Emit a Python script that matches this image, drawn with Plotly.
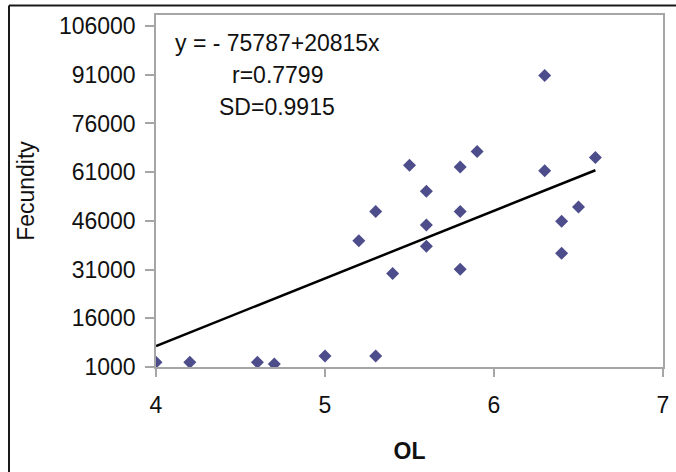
import plotly.graph_objects as go

# Data
ol = [4.0, 4.2, 4.6, 4.7, 5.0, 5.3, 5.3, 5.2, 5.4, 5.5, 5.6, 5.6, 5.6,
      5.8, 5.8, 5.8, 5.9, 6.3, 6.3, 6.4, 6.4, 6.5, 6.6]
fecundity = [2450, 2450, 2450, 1900, 4400, 4400, 48900, 39900, 29800, 63100,
             55100, 44700, 38200, 62600, 48900, 31100, 67400, 90800, 61400,
             45900, 36000, 50300, 65500]

intercept = -75787
slope = 20815
fit_x = [4.0, 6.6]
fit_y = [intercept + slope * v for v in fit_x]

x_ticks = [4, 5, 6, 7]
y_ticks = [1000, 16000, 31000, 46000, 61000, 76000, 91000, 106000]
eq_lines = ["y = - 75787+20815x", "r=0.7799", "SD=0.9915"]

FONT = "Arial, Liberation Sans, sans-serif"
W, H = 676, 472
L, R, T, B = 156, 13, 15, 105
pw, ph = W - L - R, H - T - B

fig = go.Figure()
fig.add_trace(go.Scatter(x=ol, y=fecundity, mode="markers",
                         marker=dict(symbol="diamond", size=10, color="#4d4d8c",
                                     line=dict(width=0)),
                         showlegend=False, hoverinfo="x+y"))
fig.add_trace(go.Scatter(x=fit_x, y=fit_y, mode="lines",
                         line=dict(color="black", width=2.5),
                         showlegend=False, hoverinfo="skip"))

def px_to_paper(xp, yp):
    return (xp - L) / pw, (H - B - yp) / ph

ann = []
for txt, yp in zip(eq_lines, [43, 75, 107]):
    px, py = px_to_paper(277, yp)
    ann.append(dict(text=txt, x=px, y=py, xref="paper", yref="paper",
                    showarrow=False, xanchor="center", yanchor="middle",
                    font=dict(family=FONT, size=23, color="#111111")))

# outer frame (left and top edges visible; right/bottom are outside the image)
fx0, fy_top = px_to_paper(9, 5.5)
fx1, fy_bot = px_to_paper(676, 472)
frame = [
    dict(type="line", xref="paper", yref="paper", x0=fx0, x1=fx0, y0=fy_bot, y1=fy_top,
         line=dict(color="#1a1a1a", width=2), layer="above"),
    dict(type="line", xref="paper", yref="paper", x0=fx0, x1=fx1, y0=fy_top, y1=fy_top,
         line=dict(color="#1a1a1a", width=2), layer="above"),
]

fig.update_layout(
    width=W, height=H,
    margin=dict(l=L, r=R, t=T, b=B, autoexpand=False),
    paper_bgcolor="white", plot_bgcolor="white",
    font=dict(family=FONT, size=23, color="#111111"),
    annotations=ann,
    shapes=frame,
    xaxis=dict(range=[4, 7], tickvals=x_ticks, ticktext=[str(v) for v in x_ticks],
               automargin=False,
               showgrid=False, zeroline=False, showline=True, mirror=True,
               linecolor="#a6a6a6", linewidth=1.5, ticks="outside", ticklen=8,
               tickcolor="#a6a6a6", tickwidth=1.5, ticklabelstandoff=9,
               title=dict(text="<b>OL</b>", standoff=26,
                          font=dict(family=FONT, size=23))),
    yaxis=dict(range=[1000, 109400], tickvals=y_ticks, ticktext=[str(v) for v in y_ticks],
               automargin=False,
               showgrid=False, zeroline=False, showline=True, mirror=True,
               linecolor="#a6a6a6", linewidth=1.5, ticks="outside", ticklen=9,
               tickcolor="#a6a6a6", tickwidth=1.5, ticklabelstandoff=5,
               title=dict(text="Fecundity", standoff=18,
                          font=dict(family=FONT, size=23))),
)

fig.write_html("out.html", config={"displayModeBar": False},
               post_script="document.body.style.margin='0';document.body.style.overflow='hidden';")
